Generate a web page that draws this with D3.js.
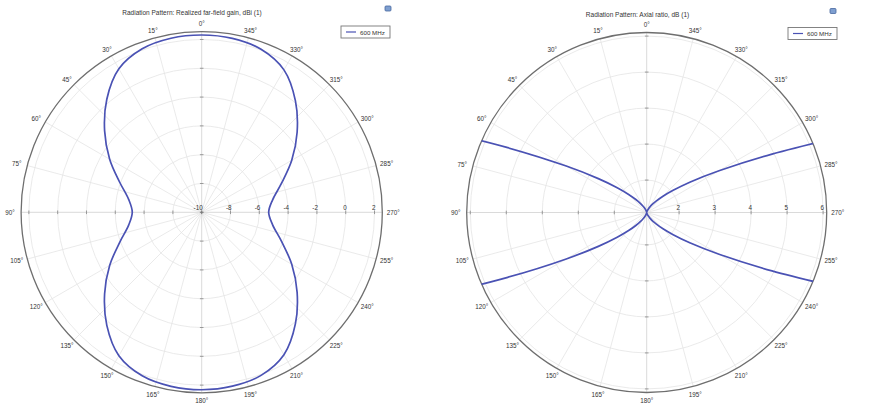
<!DOCTYPE html>
<html>
<head>
<meta charset="utf-8">
<script src="https://cdn.jsdelivr.net/npm/d3@7"></script>
<style>
  html, body { margin: 0; padding: 0; background: #fff; }
  #chart { width: 877px; height: 403px; }
  text { font-family: "Liberation Sans", Arial, sans-serif; fill: #333; }
</style>
</head>
<body>
<div id="chart"></div>
<script>
// angle labels around both dials (degrees, counter-clockwise from top)
const angleLabels = [0, 15, 30, 45, 60, 75, 90, 105, 120, 135, 150, 165,
                     180, 195, 210, 225, 240, 255, 270, 285, 300, 315, 330, 345];

// left plot: realized far-field gain, dBi
const gainTicks = [-10, -8, -6, -4, -2, 0, 2];
const gainAngles = [0, 10, 20, 30, 40, 50, 60, 70, 80, 90, 100, 110, 120, 130, 140, 150, 160, 170,
                    180, 190, 200, 210, 220, 230, 240, 250, 260, 270, 280, 290, 300, 310, 320, 330, 340, 350];
const gainValues = [2.31, 2.27, 2.08, 1.50, 0.25, -1.20, -2.62, -3.95, -4.85, -5.18, -4.85, -3.95, -2.62, -1.20, 0.25, 1.50, 2.08, 2.27,
                    2.32, 2.26, 2.05, 1.42, 0.12, -1.35, -2.78, -4.10, -5.00, -5.35, -5.00, -4.10, -2.78, -1.35, 0.12, 1.42, 2.05, 2.26];

// right plot: axial ratio, dB (null = off the scale)
const arTicks = [2, 3, 4, 5, 6];
const arAngles = [0, 5, 10, 15, 20, 25, 30, 35, 40, 45, 50, 55, 60, 65, 70, 75, 80, 85,
                  90, 95, 100, 105, 110, 115, 120, 125, 130, 135, 140, 145, 150, 155, 160, 165, 170, 175,
                  180, 185, 190, 195, 200, 205, 210, 215, 220, 225, 230, 235, 240, 245, 250, 255, 260, 265,
                  270, 275, 280, 285, 290, 295, 300, 305, 310, 315, 320, 325, 330, 335, 340, 345, 350, 355];
const arValues = [1.10, 1.10, 1.11, 1.13, 1.17, 1.22, 1.30, 1.41, 1.57, 1.81, 2.17, 2.74, 3.68, 5.36, 8.75, null, null, null,
                  null, null, null, null, 8.75, 5.36, 3.68, 2.74, 2.17, 1.81, 1.57, 1.41, 1.30, 1.22, 1.17, 1.13, 1.11, 1.10,
                  1.10, 1.10, 1.11, 1.13, 1.16, 1.21, 1.28, 1.38, 1.52, 1.74, 2.06, 2.58, 3.42, 4.94, 7.99, null, null, null,
                  null, null, null, null, 7.99, 4.94, 3.42, 2.58, 2.06, 1.74, 1.52, 1.38, 1.28, 1.21, 1.16, 1.13, 1.11, 1.10];

const legendLabel = "600 MHz";
const lineColor = "#4a52b4";

document.addEventListener("DOMContentLoaded", function() {
  const width = 877, height = 403;
  const rad = Math.PI / 180;

  const svg = d3.select("#chart").append("svg")
    .attr("width", width)
    .attr("height", height)
    .style("display", "block");

  // draws one polar panel and returns its group + radial scale
  function polarPanel(opt) {
    const g = svg.append("g").attr("transform", `translate(${opt.cx},${opt.cy})`);
    const r = d3.scaleLinear().domain(opt.domain).range([0, opt.R]);

    // 1) grid circles
    g.selectAll(".ring")
      .data(opt.ticks.filter(t => r(t) > 1))
      .enter().append("circle")
      .attr("r", d => r(d))
      .attr("fill", "none")
      .attr("stroke", "#e4e4e4")
      .attr("stroke-width", 0.8);

    // 2) spokes every 15 degrees
    g.selectAll(".spoke")
      .data(angleLabels)
      .enter().append("line")
      .attr("x1", 0).attr("y1", 0)
      .attr("x2", d => -opt.R * Math.sin(d * rad))
      .attr("y2", d => -opt.R * Math.cos(d * rad))
      .attr("stroke", d => d % 90 === 0 ? "#d0d0d0" : "#e4e4e4")
      .attr("stroke-width", 0.8);

    // 3) outer circle
    g.append("circle")
      .attr("r", opt.R)
      .attr("fill", "none")
      .attr("stroke", "#6e6e6e")
      .attr("stroke-width", 1.3);

    // 4) tick marks on the four half axes
    const tickR = opt.ticks.map(t => r(t));
    [[1, 0], [-1, 0], [0, 1], [0, -1]].forEach(function(dir) {
      g.selectAll(null)
        .data(tickR)
        .enter().append("line")
        .attr("x1", d => dir[0] * d - 1.8 * Math.abs(dir[1]))
        .attr("x2", d => dir[0] * d + 1.8 * Math.abs(dir[1]))
        .attr("y1", d => dir[1] * d - 1.8 * Math.abs(dir[0]))
        .attr("y2", d => dir[1] * d + 1.8 * Math.abs(dir[0]))
        .attr("stroke", "#777")
        .attr("stroke-width", 0.7);
    });

    // 5) radial tick labels along the 270 degree axis
    g.selectAll(".rlabel")
      .data(opt.ticks)
      .enter().append("text")
      .attr("x", d => r(d) + 1)
      .attr("y", -2.5)
      .attr("text-anchor", "end")
      .style("font-size", "6.3px")
      .text(d => d);

    // 6) angle labels
    g.selectAll(".alabel")
      .data(angleLabels)
      .enter().append("text")
      .attr("x", d => -(opt.R + 7 + 4 * Math.abs(Math.sin(d * rad))) * Math.sin(d * rad))
      .attr("y", d => -(opt.R + 7 + 1 * Math.abs(Math.cos(d * rad))) * Math.cos(d * rad))
      .attr("text-anchor", "middle")
      .attr("dominant-baseline", "central")
      .style("font-size", "6.3px")
      .text(d => d + "°");

    // 7) clip for the data curve
    svg.append("clipPath").attr("id", opt.id)
      .append("circle")
      .attr("cx", opt.cx).attr("cy", opt.cy)
      .attr("r", opt.R);

    // 8) title
    svg.append("text")
      .attr("x", opt.titleX)
      .attr("y", opt.titleY)
      .attr("text-anchor", "middle")
      .attr("dominant-baseline", "central")
      .style("font-size", "6.5px")
      .text(opt.title);

    // 9) legend box
    const lg = svg.append("g").attr("transform", `translate(${opt.legend[0]},${opt.legend[1]})`);
    lg.append("rect")
      .attr("width", 49).attr("height", 12)
      .attr("fill", "#fff")
      .attr("stroke", "#777")
      .attr("stroke-width", 0.9);
    lg.append("line")
      .attr("x1", 5).attr("x2", 15)
      .attr("y1", 6).attr("y2", 6)
      .attr("stroke", lineColor)
      .attr("stroke-width", 1.2);
    lg.append("text")
      .attr("x", 19).attr("y", 6)
      .attr("dominant-baseline", "central")
      .style("font-size", "6.2px")
      .text(legendLabel);

    // 10) small toolbar icon
    svg.append("rect")
      .attr("x", opt.icon[0]).attr("y", opt.icon[1])
      .attr("width", 6).attr("height", 5)
      .attr("rx", 1)
      .attr("fill", "#7f9fd0")
      .attr("stroke", "#46679f")
      .attr("stroke-width", 0.8);

    return { g: g, r: r };
  }

  // left: gain pattern
  const left = polarPanel({
    id: "clipL", cx: 201.7, cy: 212.3, R: 180.6, domain: [-10, 2.54], ticks: gainTicks,
    title: "Radiation Pattern: Realized far-field gain, dBi (1)", titleX: 192, titleY: 12,
    legend: [341, 26], icon: [385, 6]
  });

  const gainPts = gainAngles.map((a, i) => ({ a: a, v: gainValues[i] }));
  svg.append("g")
    .attr("clip-path", "url(#clipL)")
    .append("path")
    .attr("transform", "translate(201.7,212.3)")
    .attr("d", d3.lineRadial()
      .angle(d => -d.a * rad)
      .radius(d => left.r(d.v))
      .curve(d3.curveCatmullRomClosed)(gainPts))
    .attr("fill", "none")
    .attr("stroke", lineColor)
    .attr("stroke-width", 1.7);

  // right: axial ratio
  const right = polarPanel({
    id: "clipR", cx: 646.7, cy: 212.5, R: 180, domain: [1.1, 6.1], ticks: arTicks,
    title: "Radiation Pattern: Axial ratio, dB (1)", titleX: 637.5, titleY: 14,
    legend: [788, 27.5], icon: [830, 8.5]
  });

  // start the walk at 90 deg so the branch through 0 deg stays in one piece
  const start = arAngles.indexOf(90);
  const arPts = arAngles.map((a, i) => {
    const k = (start + i) % arAngles.length;
    return { a: arAngles[k] + (k < start ? 360 : 0), v: arValues[k] };
  });
  svg.append("g")
    .attr("clip-path", "url(#clipR)")
    .append("path")
    .attr("transform", "translate(646.7,212.5)")
    .attr("d", d3.lineRadial()
      .defined(d => d.v != null)
      .angle(d => -d.a * rad)
      .radius(d => right.r(d.v))
      .curve(d3.curveCatmullRom)(arPts))
    .attr("fill", "none")
    .attr("stroke", lineColor)
    .attr("stroke-width", 1.7);
});
</script>
</body>
</html>
